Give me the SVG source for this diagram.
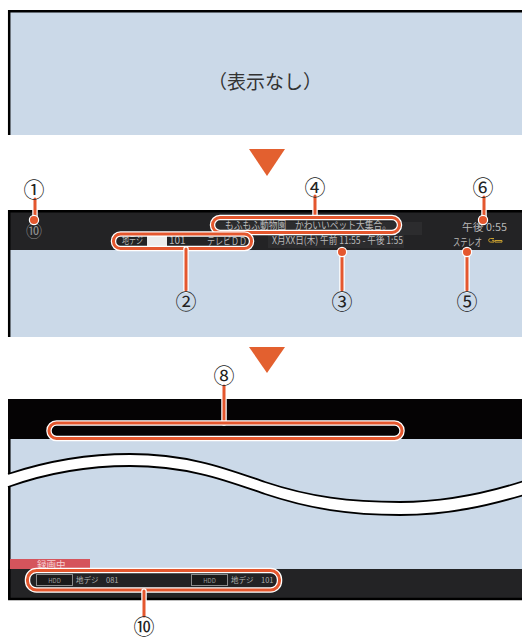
<svg xmlns="http://www.w3.org/2000/svg" width="522" height="639" viewBox="0 0 522 639">
<style>
text{font-family:"Noto Sans CJK JP","Noto Sans",sans-serif}
.blue{fill:#cbd9e8}
.dark{fill:#232325}
.num{font-size:21px;fill:#222;text-anchor:middle;dominant-baseline:central}
.bartxt{fill:#b9b9b9;font-size:10px}
.halo{fill:none;stroke:#ffffff;stroke-width:5.5;stroke-linecap:round}
.call{fill:none;stroke:#e4572e;stroke-width:3;stroke-linecap:round}
.dot{fill:#e4572e;stroke:#ffffff;stroke-width:1.2}
.tri{fill:#e3602f}
.hdd{fill:#1a1a1a;stroke:#8a8a8a;stroke-width:1}
</style>
<rect width="522" height="639" fill="#ffffff"/>

<g id="panel1">
  <rect x="8" y="10" width="514" height="125" class="blue"/>
  <path d="M9.2,135 V11.2 H522" fill="none" stroke="#000" stroke-width="2.5"/>
  <text x="265" y="80" font-size="19" fill="#333" text-anchor="middle" dominant-baseline="central">（表示なし）</text>
</g>

<g id="arrow1"><polygon class="tri" points="249,149 285,149 267,176"/></g>

<g id="panel2">
  <rect x="8" y="210" width="514" height="127" class="blue"/>
  <rect x="8" y="210" width="514" height="40" class="dark"/>
  <path d="M9.2,337 V211.2 H522" fill="none" stroke="#000" stroke-width="2.5"/>
  <rect x="212" y="222" width="210" height="13" fill="#2c2c2e"/>
  <rect x="268" y="235" width="136" height="13" fill="#2c2c2e"/>
  <text x="34" y="230" font-size="16" fill="#8e8e8e" text-anchor="middle" dominant-baseline="central">⑩</text>
  <text class="bartxt" x="225" y="229" font-size="10.5" textLength="166" lengthAdjust="spacingAndGlyphs">もふもふ動物園　かわいいペット大集合。</text>
  <text class="bartxt" x="122" y="244" font-size="9" textLength="21" lengthAdjust="spacingAndGlyphs">地デジ</text>
  <rect x="147" y="236" width="20" height="10" fill="#ececec"/>
  <text class="bartxt" x="169" y="244" font-size="9">101</text>
  <text class="bartxt" x="207" y="245" font-size="10" textLength="40" lengthAdjust="spacingAndGlyphs">テレビＤＤ</text>
  <text class="bartxt" x="272" y="244" font-size="9.5" textLength="131" lengthAdjust="spacingAndGlyphs">X月XX日(木) 午前 11:55 - 午後 1:55</text>
  <text class="bartxt" x="462" y="231" font-size="11.5" textLength="45" lengthAdjust="spacingAndGlyphs">午後 0:55</text>
  <text class="bartxt" x="453" y="246" font-size="8" textLength="29" lengthAdjust="spacingAndGlyphs">ステレオ</text>
  <path d="M494,238.5 h-3.5 a1.8,1.8 0 0 0 0,3.6 h3.5 v-1.8 h-2 M495,240.5 h7 v1.6 h-7 z" fill="none" stroke="#c9a030" stroke-width="1"/>
</g>

<g id="arrow2"><polygon class="tri" points="249,347 285,347 267,373"/></g>

<g id="panel3">
  <rect x="8" y="399" width="514" height="170" class="blue"/>
  <rect x="8" y="399" width="514" height="40" fill="#050304"/>
  <path d="M9.3,569 V439" fill="none" stroke="#000" stroke-width="2.5"/>
  <path d="M5,475.5 L8,474 C50,460 90,454 130,454 C190,454 230,470 265,482 C310,497 350,502 400,502 C450,502 490,492 524,481 L524,495 C490,505 450,515 400,515 C350,515 310,509 265,494 C230,482 190,466 130,466 C90,466 50,472 8,487 L5,488 Z" fill="#ffffff"/>
  <path d="M8,474 C50,460 90,454 130,454 C190,454 230,470 265,482 C310,497 350,502 400,502 C450,502 490,492 524,481" fill="none" stroke="#000" stroke-width="1.8"/>
  <path d="M8,487 C50,472 90,466 130,466 C190,466 230,482 265,494 C310,509 350,515 400,515 C450,515 490,505 524,495" fill="none" stroke="#000" stroke-width="1.8"/>
  <rect x="10" y="559" width="80" height="10" fill="#d5545c"/>
  <text x="37" y="567.5" font-size="9.5" fill="#f5d0d2">録画中</text>
  <rect x="8" y="569" width="514" height="30" class="dark"/>
  <path d="M9.3,569 V599 H522" fill="none" stroke="#000" stroke-width="2.5"/>
  <rect class="hdd" x="36.5" y="574.5" width="36" height="11"/>
  <text x="54.5" y="582.5" font-size="6" fill="#9a9a9a" text-anchor="middle">HDD</text>
  <text x="76" y="583" font-size="7.5" fill="#b0b0b0">地デジ　081</text>
  <rect class="hdd" x="191.5" y="574.5" width="36" height="11"/>
  <text x="209.5" y="582.5" font-size="6" fill="#9a9a9a" text-anchor="middle">HDD</text>
  <text x="231" y="583" font-size="7.5" fill="#b0b0b0">地デジ　101</text>
</g>

<g id="connectors">
  <g id="c1"><path class="halo" d="M35,199 V220"/><path class="call" d="M35,199 V220"/><circle class="dot" cx="34" cy="220" r="4.6"/></g>
  <g id="c4"><path class="halo" d="M315,196 V217"/><path class="call" d="M315,196 V217"/>
    <rect class="halo" x="212.5" y="217.5" width="187" height="15" rx="7.5"/><rect class="call" x="212.5" y="217.5" width="187" height="15" rx="7.5"/></g>
  <g id="c2"><rect class="halo" x="113.5" y="234" width="138" height="14.5" rx="7"/><rect class="call" x="113.5" y="234" width="138" height="14.5" rx="7"/>
    <path class="halo" d="M186,249 V290"/><path class="call" d="M186,249 V290"/></g>
  <g id="c3"><path class="halo" d="M342,253 V290"/><path class="call" d="M342,253 V290"/><circle class="dot" cx="342" cy="252" r="4.6"/></g>
  <g id="c5"><path class="halo" d="M467,253 V290"/><path class="call" d="M467,253 V290"/><circle class="dot" cx="467" cy="252" r="4.6"/></g>
  <g id="c6"><path class="halo" d="M484,197 V220"/><path class="call" d="M484,197 V220"/><circle class="dot" cx="483" cy="220" r="4.6"/></g>
  <g id="c8"><path class="halo" d="M224,386 V423"/><path class="call" d="M224,386 V423"/>
    <rect class="halo" x="49" y="423" width="353" height="15.5" rx="7.5"/><rect class="call" x="49" y="423" width="353" height="15.5" rx="7.5"/></g>
  <g id="c10"><rect class="halo" x="27.5" y="570.5" width="252" height="19.5" rx="9"/><rect class="call" x="27.5" y="570.5" width="252" height="19.5" rx="9"/>
    <path class="halo" d="M144,591 V616"/><path class="call" d="M144,591 V616"/></g>
</g>

<g id="labels">
  <g id="n1"><text class="num" x="34" y="188">①</text></g>
  <g id="n4"><text class="num" x="315" y="186">④</text></g>
  <g id="n6"><text class="num" x="483" y="186">⑥</text></g>
  <g id="n2"><text class="num" x="186" y="300">②</text></g>
  <g id="n3"><text class="num" x="342" y="300">③</text></g>
  <g id="n5"><text class="num" x="467" y="300">⑤</text></g>
  <g id="n8"><text class="num" x="224" y="374">⑧</text></g>
  <g id="n10"><text class="num" x="144" y="625" font-size="19">⑩</text></g>
</g>
</svg>
